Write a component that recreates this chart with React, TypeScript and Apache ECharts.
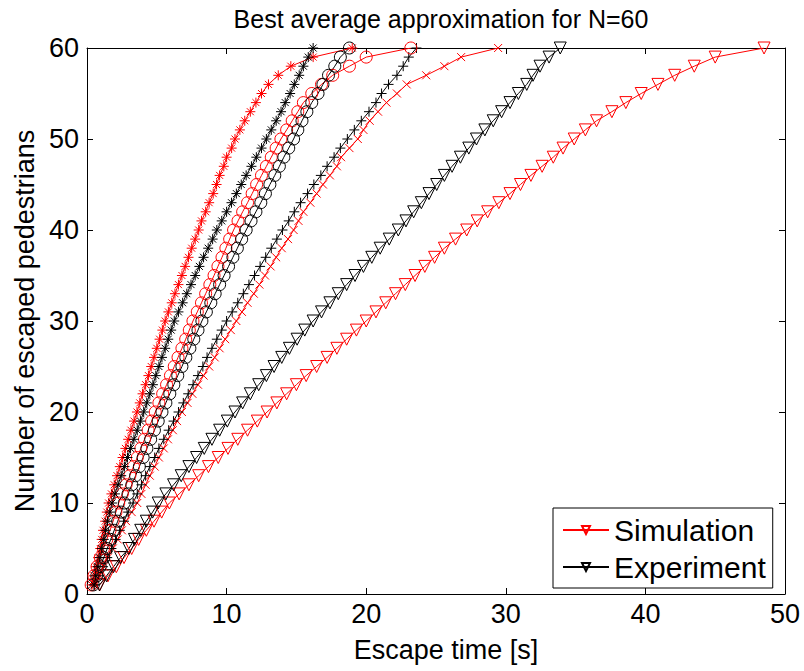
import React, { useEffect, useRef } from "react";
import * as echarts from "echarts";

const escapedCount = [
  1, 2, 3, 4, 5, 6, 7, 8, 9, 10, 11, 12, 13, 14, 15, 16, 17, 18, 19, 20,
  21, 22, 23, 24, 25, 26, 27, 28, 29, 30, 31, 32, 33, 34, 35, 36, 37, 38, 39, 40,
  41, 42, 43, 44, 45, 46, 47, 48, 49, 50, 51, 52, 53, 54, 55, 56, 57, 58, 59, 60,
];

// escape times [s] for each run
const simTriangle = [
  0.9, 1.5, 2.1, 2.65, 3.2, 3.7, 4.25, 4.8, 5.35, 5.9, 6.6, 7.3, 8.0, 8.7, 9.4, 10.1, 10.8, 11.5, 12.2, 12.9,
  13.6, 14.3, 15.0, 15.7, 16.45, 17.2, 17.9, 18.6, 19.3, 20.0, 20.7, 21.4, 22.1, 22.8, 23.5, 24.2, 24.9, 25.6, 26.4, 27.2,
  27.95, 28.7, 29.5, 30.3, 31.05, 31.8, 32.6, 33.4, 34.1, 34.9, 35.7, 36.5, 37.6, 38.6, 39.7, 40.9, 42.1, 43.5, 45.0, 48.5,
];
const expTriangle = [
  0.9, 1.4, 1.9, 2.4, 3.0, 3.4, 3.85, 4.25, 4.7, 5.1, 5.65, 6.2, 6.75, 7.3, 7.85, 8.4, 8.95, 9.5, 10.05, 10.6,
  11.15, 11.7, 12.3, 12.85, 13.4, 13.95, 14.5, 15.05, 15.6, 16.2, 16.8, 17.4, 18.0, 18.6, 19.2, 19.8, 20.4, 21.0, 21.65, 22.3,
  22.85, 23.4, 23.95, 24.5, 25.05, 25.6, 26.15, 26.75, 27.35, 27.9, 28.5, 29.1, 29.7, 30.3, 30.9, 31.5, 31.95, 32.45, 33.1, 33.9,
];
const simCross = [
  0.6, 0.9, 1.2, 1.5, 1.85, 2.2, 2.5, 2.8, 3.2, 3.6, 3.9, 4.2, 4.5, 4.85, 5.15, 5.5, 5.8, 6.15, 6.45, 6.8,
  7.2, 7.55, 7.95, 8.35, 8.75, 9.15, 9.5, 9.9, 10.3, 10.7, 11.1, 11.5, 11.95, 12.35, 12.75, 13.15, 13.55, 13.95, 14.4, 14.8,
  15.15, 15.5, 16.0, 16.45, 16.9, 17.4, 17.9, 18.2, 18.8, 19.4, 19.8, 20.25, 20.85, 21.45, 22.2, 22.9, 24.3, 25.6, 26.8, 29.45,
];
const expPlus = [
  0.55, 0.85, 1.15, 1.45, 1.75, 2.05, 2.35, 2.65, 2.95, 3.3, 3.6, 3.9, 4.2, 4.5, 4.85, 5.15, 5.5, 5.85, 6.2, 6.56,
  6.9, 7.25, 7.6, 7.95, 8.3, 8.6, 8.95, 9.3, 9.65, 10.0, 10.4, 10.8, 11.2, 11.6, 12.0, 12.4, 12.8, 13.2, 13.6, 14.0,
  14.45, 14.85, 15.3, 15.8, 16.25, 16.75, 17.2, 17.7, 18.15, 18.65, 19.15, 19.65, 20.2, 20.7, 21.1, 21.6, 22.2, 22.65, 23.05, 23.6,
];
const simCircle = [
  0.3, 0.5, 0.72, 0.95, 1.18, 1.42, 1.65, 1.87, 2.07, 2.27, 2.53, 2.8, 3.07, 3.33, 3.6, 3.86, 4.12, 4.38, 4.63, 4.89,
  5.15, 5.42, 5.7, 5.98, 6.25, 6.52, 6.8, 7.07, 7.33, 7.59, 7.9, 8.2, 8.5, 8.8, 9.1, 9.38, 9.67, 9.95, 10.22, 10.5,
  10.82, 11.15, 11.5, 11.83, 12.15, 12.5, 12.85, 13.2, 13.55, 13.89, 14.3, 14.7, 15.1, 15.5, 16.1, 16.8, 17.6, 18.8, 20.0, 23.2,
];
const expCircle = [
  0.45, 0.7, 0.95, 1.2, 1.45, 1.7, 1.95, 2.2, 2.45, 2.67, 2.94, 3.21, 3.48, 3.75, 4.02, 4.29, 4.56, 4.83, 5.1, 5.37,
  5.65, 5.93, 6.22, 6.5, 6.8, 7.08, 7.37, 7.65, 7.95, 8.23, 8.55, 8.87, 9.18, 9.5, 9.82, 10.14, 10.45, 10.77, 11.08, 11.4,
  11.75, 12.1, 12.45, 12.78, 13.1, 13.45, 13.78, 14.1, 14.45, 14.8, 15.1, 15.4, 15.75, 16.1, 16.55, 16.9, 17.3, 17.75, 18.15, 18.8,
];
const simStar = [
  0.35, 0.5, 0.65, 0.8, 0.95, 1.05, 1.15, 1.3, 1.42, 1.55, 1.75, 1.95, 2.15, 2.35, 2.55, 2.75, 2.95, 3.15, 3.37, 3.58,
  3.78, 3.98, 4.2, 4.4, 4.6, 4.8, 5.0, 5.2, 5.4, 5.6, 5.83, 6.07, 6.3, 6.55, 6.8, 7.03, 7.27, 7.5, 7.75, 8.0,
  8.2, 8.5, 8.75, 9.04, 9.28, 9.5, 9.8, 10.0, 10.36, 10.6, 10.95, 11.3, 11.7, 12.1, 12.5, 13.0, 13.7, 14.6, 16.2, 19.0,
];
const expStar = [
  0.5, 0.62, 0.78, 0.92, 1.06, 1.2, 1.33, 1.47, 1.63, 1.79, 2.0, 2.22, 2.45, 2.68, 2.9, 3.12, 3.36, 3.6, 3.83, 4.06,
  4.28, 4.5, 4.72, 4.93, 5.15, 5.37, 5.6, 5.82, 6.03, 6.25, 6.55, 6.85, 7.15, 7.45, 7.75, 8.05, 8.35, 8.68, 9.0, 9.3,
  9.65, 10.0, 10.35, 10.7, 11.05, 11.4, 11.78, 12.13, 12.5, 12.85, 13.2, 13.55, 13.9, 14.2, 14.55, 14.85, 15.2, 15.5, 15.85, 16.2,
];

const xTicks = [0, 10, 20, 30, 40, 50];
const yTicks = [0, 10, 20, 30, 40, 50, 60];

const RED = "#ff0000";
const BLACK = "#000000";
const FONT = "'Liberation Sans', Arial, Helvetica, sans-serif";

const SYM_X = "path://M0 0L10 10M10 0L0 10";
const SYM_PLUS = "path://M5 0L5 10M0 5L10 5";
const SYM_STAR = "path://M5 0L5 10M0 5L10 5M1.5 1.5L8.5 8.5M8.5 1.5L1.5 8.5";

function pairs(times: number[]) {
  return times.map((t, i) => [t, escapedCount[i]]);
}

function mk(name: string, times: number[], color: string, symbol: string, size: number, rotate = 0) {
  return {
    name,
    type: "line",
    data: pairs(times),
    showSymbol: true,
    symbol,
    symbolSize: size,
    symbolRotate: rotate,
    lineStyle: { color, width: 1 },
    itemStyle: { color: "rgba(0,0,0,0)", borderColor: color, borderWidth: 1 },
    emphasis: { disabled: true },
    silent: true,
  };
}

export default function App() {
  const ref = useRef<HTMLDivElement>(null);
  useEffect(() => {
    if (!ref.current) return;
    const chart = echarts.init(ref.current, null, { renderer: "svg" });
    const axisCommon = {
      type: "value",
      axisLine: { show: true, onZero: false, lineStyle: { color: BLACK, width: 1 } },
      axisTick: { show: true, inside: true, length: 6, lineStyle: { color: BLACK } },
      splitLine: { show: false },
    };
    chart.setOption({
      animation: false,
      backgroundColor: "#ffffff",
      textStyle: { fontFamily: FONT },
      title: {
        text: "Best average approximation for N=60",
        left: 436,
        textAlign: "center",
        top: 1,
        textStyle: { fontFamily: FONT, fontSize: 25, fontWeight: "normal", color: BLACK },
      },
      grid: { left: 87, top: 48, right: 19, bottom: 77, containLabel: false },
      xAxis: [
        {
          ...axisCommon,
          position: "bottom",
          min: xTicks[0],
          max: xTicks[xTicks.length - 1],
          interval: 10,
          name: "Escape time [s]",
          nameLocation: "middle",
          nameGap: 42,
          nameTextStyle: { fontFamily: FONT, fontSize: 27, color: BLACK, padding: [0, 0, 0, 20] },
          axisLabel: { fontFamily: FONT, fontSize: 27, color: BLACK, margin: 6 },
        },
        {
          ...axisCommon,
          position: "top",
          min: xTicks[0],
          max: xTicks[xTicks.length - 1],
          interval: 10,
          axisLabel: { show: false },
        },
      ],
      yAxis: [
        {
          ...axisCommon,
          position: "left",
          min: yTicks[0],
          max: yTicks[yTicks.length - 1],
          interval: 10,
          name: "Number of escaped pedestrians",
          nameLocation: "middle",
          nameGap: 48,
          nameTextStyle: { fontFamily: FONT, fontSize: 27, color: BLACK },
          axisLabel: { fontFamily: FONT, fontSize: 27, color: BLACK, margin: 8 },
        },
        {
          ...axisCommon,
          position: "right",
          min: yTicks[0],
          max: yTicks[yTicks.length - 1],
          interval: 10,
          axisLabel: { show: false },
        },
      ],
      legend: {
        data: ["Simulation", "Experiment"],
        orient: "vertical",
        left: 553,
        top: 508,
        padding: [7, 7, 6, 9],
        itemGap: 7,
        itemWidth: 46,
        itemHeight: 10,
        backgroundColor: "#ffffff",
        borderColor: BLACK,
        borderWidth: 1,
        borderRadius: 0,
        textStyle: { fontFamily: FONT, fontSize: 30, color: BLACK, padding: [0, 0, 0, 0] },
        selectedMode: false,
      },
      series: [
        mk("Simulation", simTriangle, RED, "triangle", 12, 180),
        mk("Experiment", expTriangle, BLACK, "triangle", 12, 180),
        mk("Simulation x", simCross, RED, SYM_X, 8),
        mk("Experiment +", expPlus, BLACK, SYM_PLUS, 10),
        mk("Simulation o", simCircle, RED, "circle", 12),
        mk("Experiment o", expCircle, BLACK, "circle", 12),
        mk("Simulation *", simStar, RED, SYM_STAR, 10),
        mk("Experiment *", expStar, BLACK, SYM_STAR, 10),
      ],
    });
    return () => chart.dispose();
  }, []);
  return (
    <div
      ref={ref}
      style={{ position: "absolute", left: 0, top: 0, width: 804, height: 671 }}
    />
  );
}
